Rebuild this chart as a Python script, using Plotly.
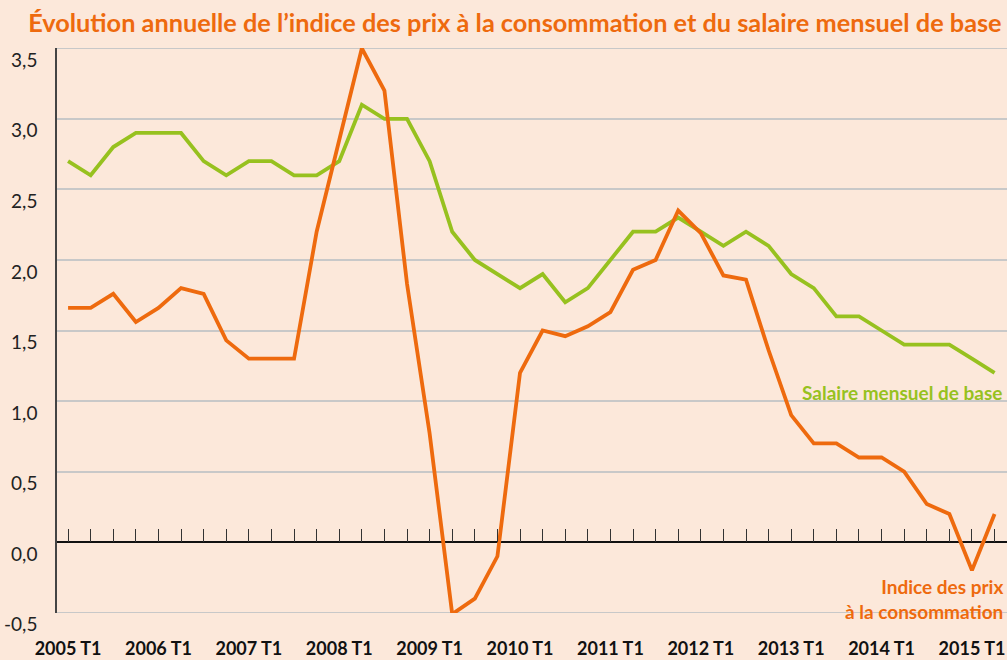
import plotly.graph_objects as go

quarters = [f"{y} T{q}" for y in range(2005, 2016) for q in range(1, 5)][:42]

prix = [1.66, 1.66, 1.76, 1.56, 1.66, 1.80, 1.76, 1.43, 1.30, 1.30,
        1.30, 2.20, 2.85, 3.50, 3.20, 1.83, 0.77, -0.51, -0.40, -0.10,
        1.20, 1.50, 1.46, 1.53, 1.63, 1.93, 2.00, 2.35, 2.19, 1.89,
        1.86, 1.36, 0.90, 0.70, 0.70, 0.60, 0.60, 0.50, 0.27, 0.20,
        -0.20, 0.20]

salaire = [2.70, 2.60, 2.80, 2.90, 2.90, 2.90, 2.70, 2.60, 2.70, 2.70,
           2.60, 2.60, 2.70, 3.10, 3.00, 3.00, 2.70, 2.20, 2.00, 1.90,
           1.80, 1.90, 1.70, 1.80, 2.00, 2.20, 2.20, 2.30, 2.20, 2.10,
           2.20, 2.10, 1.90, 1.80, 1.60, 1.60, 1.50, 1.40, 1.40, 1.40,
           1.30, 1.20]

year_labels = quarters[::4]
y_ticks = [-0.5, 0.0, 0.5, 1.0, 1.5, 2.0, 2.5, 3.0, 3.5]
y_tick_text = ["-0,5", "0,0", "0,5", "1,0", "1,5", "2,0", "2,5", "3,0", "3,5"]

title = "Évolution annuelle de l’indice des prix à la consommation et du salaire mensuel de base"
label_salaire = "Salaire mensuel de base"
label_prix = "Indice des prix<br>à la consommation"

BG = "#FCE8DA"
ORANGE = "#EE6A0E"
GREEN = "#97C11F"
GRID = "#C8C8C8"

fig = go.Figure()
fig.add_trace(go.Scatter(x=quarters, y=salaire, mode="lines",
                         line=dict(color=GREEN, width=3.8), name="Salaire",
                         showlegend=False, hoverinfo="skip", cliponaxis=False))
fig.add_trace(go.Scatter(x=quarters, y=prix, mode="lines",
                         line=dict(color=ORANGE, width=3.8), name="Prix",
                         showlegend=False, hoverinfo="skip", cliponaxis=False))
# invisible trace to hold the tick axis
fig.add_trace(go.Scatter(x=list(range(len(quarters))), y=[None] * len(quarters),
                         xaxis="x2", yaxis="y", mode="lines",
                         showlegend=False, hoverinfo="skip"))

# gridlines at the two ends of the value axis
for yv in (y_ticks[0], y_ticks[-1]):
    fig.add_shape(type="line", xref="paper", yref="y", x0=0, x1=1, y0=yv, y1=yv,
                  line=dict(color=GRID, width=1.5), layer="between")

fig.update_layout(
    width=1007, height=660,
    paper_bgcolor=BG, plot_bgcolor=BG,
    margin=dict(l=57, r=0, t=48, b=47, autoexpand=False),
    title=dict(text=title, x=0.028, xanchor="left", y=0.965, yanchor="middle",
               xref="container", yref="container",
               font=dict(family="Lato", size=25.3, color=ORANGE, weight="bold")),
    xaxis=dict(type="category", range=[-0.49, 41.55], automargin=False,
               tickmode="array", tickvals=year_labels, ticktext=year_labels,
               showgrid=False, zeroline=False, showline=False, ticks="",
               ticklabelstandoff=23,
               tickfont=dict(family="Lato", size=18, color="#111", weight="bold")),
    xaxis2=dict(overlaying="x", anchor="free", position=0.125, side="top",
                range=[-0.49, 41.55], tickmode="linear", tick0=0, dtick=1,
                automargin=False,
                ticks="outside", ticklen=13, tickwidth=1.2, tickcolor="#333",
                showticklabels=False, showgrid=False, zeroline=False, showline=False),
    yaxis=dict(range=[-0.502, 3.502], tickmode="array", tickvals=y_ticks,
               ticktext=y_tick_text, showgrid=True, gridcolor=GRID, gridwidth=1.5,
               automargin=False,
               zeroline=True, zerolinecolor="#111", zerolinewidth=1.5,
               showline=True, linecolor="#444", linewidth=1.5, ticks="",
               ticklabelstandoff=14, ticklabelshift=12,
               tickfont=dict(family="Lato", size=19, color="#222")),
)

fig.add_annotation(x=quarters[-1], y=salaire[-1], text=label_salaire,
                   xref="x", yref="y", xanchor="right", yanchor="top",
                   xshift=10, yshift=-6, showarrow=False, align="right",
                   font=dict(family="Lato", size=19, color=GREEN, weight="bold"))
fig.add_annotation(x=quarters[-1], y=prix[-2], text=label_prix,
                   xref="x", yref="y", xanchor="right", yanchor="top",
                   xshift=10, yshift=-3, showarrow=False, align="right",
                   font=dict(family="Lato", size=19, color=ORANGE, weight="bold"))

fig.write_html("out.html", config={"displayModeBar": False},
               post_script="document.body.style.margin='0px';")
